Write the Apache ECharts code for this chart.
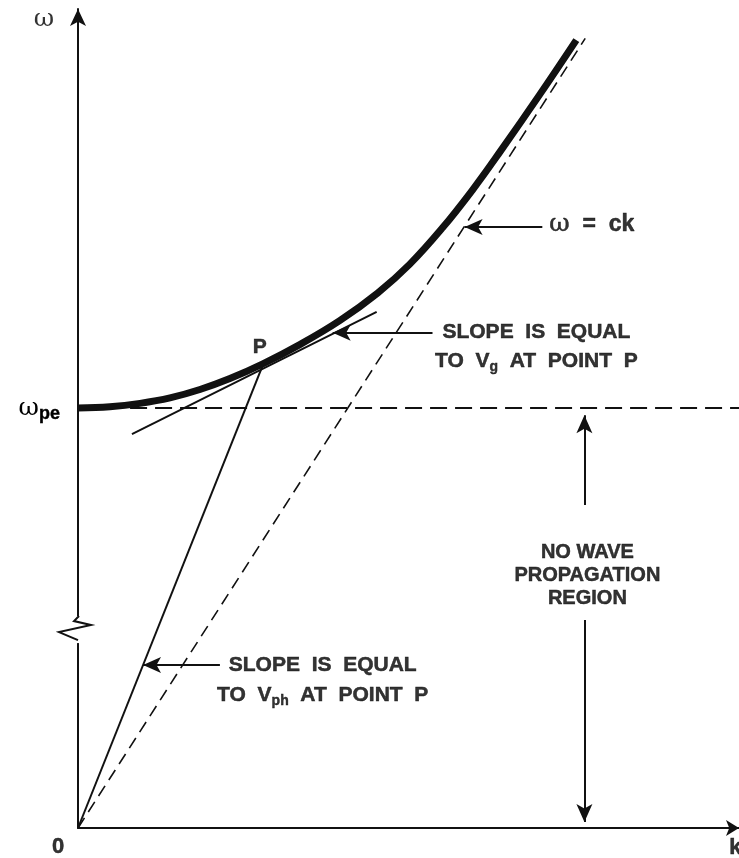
<!DOCTYPE html>
<html>
<head>
<meta charset="utf-8">
<title>dispersion</title>
<script src="https://cdn.jsdelivr.net/npm/echarts@6/dist/echarts.min.js"></script>
<style>
html,body{margin:0;padding:0;background:#fff;}
#dispersion{width:739px;height:858px;}
</style>
</head>
<body>
<div id="dispersion"></div>
<script>
// units: wpe = 1, c = 1 (so the light line is w = k)
var curvePts=[[0,1.000],[0.118,1.003],[0.230,1.011],[0.341,1.024],[0.452,1.044],[0.563,1.070],[0.685,1.105],[0.822,1.151],[0.970,1.208],[1.111,1.274],[1.229,1.342],[1.351,1.429],[1.462,1.519],[1.562,1.608],[1.710,1.745],[1.847,1.876]];
var lightLine=[[0,0],[1.88,1.88]];
var wpeLine=[[0.193,1],[2.45,1]];
var tangentLine=[[0.2,0.938],[1.107,1.229]];
var phaseLine=[[0,0],[0.685,1.102]];
// pointer arrows: [tail, tip]
var ckArrow=[[1.721,1.431],[1.433,1.431]];
var vgArrow=[[1.314,1.179],[0.944,1.179]];
var vphArrow=[[0.526,0.388],[0.241,0.388]];
var upArrow=[[1.877,0.769],[1.877,0.983]];
var downArrow=[[1.877,0.495],[1.877,0.014]];
var breakAt=0.476;

var dark='#000';
var sans='Liberation Sans';
var serif='DejaVu Serif';

function arrowItem(a){
	return [{coord:a[0],symbol:'none'},{coord:a[1],symbol:'arrow',symbolSize:[12,18]}];
}
function textItem(pos,text,place,size,extra){
	var label={show:true,position:place,distance:0,formatter:text,color:dark,fontFamily:sans,fontWeight:'bold',fontSize:size,
		textBorderColor:dark,textBorderWidth:0.5};
	for(var key in extra){label[key]=extra[key];}
	return {value:pos,label:label};
}

var myChart=echarts.init(document.getElementById('dispersion'));
var subStyle={fontFamily:sans,fontWeight:'bold',fontSize:14,color:dark,textBorderColor:dark,textBorderWidth:0.4,padding:[12,0,0,0]};
var option={
	animation:false,
	backgroundColor:'#fff',
	grid:{left:78,right:0,top:9,bottom:30},
	xAxis:{
		type:'value',min:0,max:2.45,
		axisLine:{show:true,onZero:false,symbol:['none','arrow'],symbolSize:[12,13],lineStyle:{color:'#111',width:2}},
		axisTick:{show:false},axisLabel:{show:false},splitLine:{show:false}
	},
	yAxis:{
		type:'value',min:0,max:1.95,interval:1,
		axisLine:{show:true,onZero:false,symbol:['none','arrow'],symbolSize:[12,17],lineStyle:{color:'#111',width:2}},
		axisTick:{show:false},splitLine:{show:false},
		axisLabel:{
			margin:18,
			formatter:function(v){return v===1?'{w|ω}{p|pe}':'';},
			rich:{
				w:{fontFamily:serif,fontSize:25,color:dark},
				p:{fontFamily:sans,fontWeight:'bold',fontSize:18,color:dark,textBorderColor:dark,textBorderWidth:0.4,padding:[12,0,0,0]}
			}
		}
	},
	series:[{
		type:'line',data:curvePts,smooth:0.4,showSymbol:false,silent:true,z:4,
		lineStyle:{color:'#111',width:7,cap:'butt',join:'round'}
	},{
		type:'line',data:lightLine,showSymbol:false,silent:true,
		lineStyle:{color:'#111',width:1.6,type:[12,7]}
	},{
		type:'line',data:wpeLine,showSymbol:false,silent:true,
		lineStyle:{color:'#111',width:2,type:[17,8]}
	},{
		type:'line',data:tangentLine,showSymbol:false,silent:true,
		lineStyle:{color:'#111',width:2}
	},{
		type:'line',data:phaseLine,showSymbol:false,silent:true,
		lineStyle:{color:'#111',width:2},
		markLine:{
			silent:true,animation:false,
			label:{show:false},
			lineStyle:{type:'solid',color:'#111',width:2},
			data:[arrowItem(ckArrow),arrowItem(vgArrow),arrowItem(vphArrow),arrowItem(upArrow),arrowItem(downArrow)]
		}
	},{
		type:'scatter',symbolSize:0,silent:true,clip:false,z:6,
		data:[
			textItem([-0.126,1.924],'ω','inside',25,{fontFamily:serif,fontWeight:'normal',textBorderWidth:0}),
			textItem([-0.074,-0.045],'0','inside',22,{}),
			textItem([2.414,-0.048],'k','right',22,{}),
			textItem([0.674,1.145],'P','inside',21,{}),
			textItem([1.747,1.436],'{w|ω}  =  ck','right',23,{rich:{w:{fontFamily:serif,fontWeight:'normal',fontSize:25,color:dark}}}),
			textItem([1.699,1.145],'SLOPE  IS  EQUAL\nTO  V{s|g}  AT  POINT  P','inside',21,{lineHeight:29,rich:{s:subStyle}}),
			textItem([0.907,0.352],'SLOPE  IS  EQUAL\nTO  V{s|ph}  AT  POINT  P','inside',21,{lineHeight:30,rich:{s:subStyle}}),
			textItem([1.888,0.602],'NO WAVE\nPROPAGATION\nREGION','inside',20,{lineHeight:23})
		]
	}]
};
myChart.setOption(option);

// break mark on the w axis
var bp=myChart.convertToPixel({gridIndex:0},[0,breakAt]);
myChart.setOption({
	graphic:[{
		type:'rect',z:100,x:bp[0]-3,y:bp[1]-12,shape:{width:6,height:27},style:{fill:'#fff'}
	},{
		type:'polyline',z:101,x:bp[0],y:bp[1],
		shape:{points:[[1,-12],[-4,-7],[13,-3],[-19,4],[0,12]]},
		style:{stroke:'#111',lineWidth:2,fill:null}
	}]
});
</script>
</body>
</html>
